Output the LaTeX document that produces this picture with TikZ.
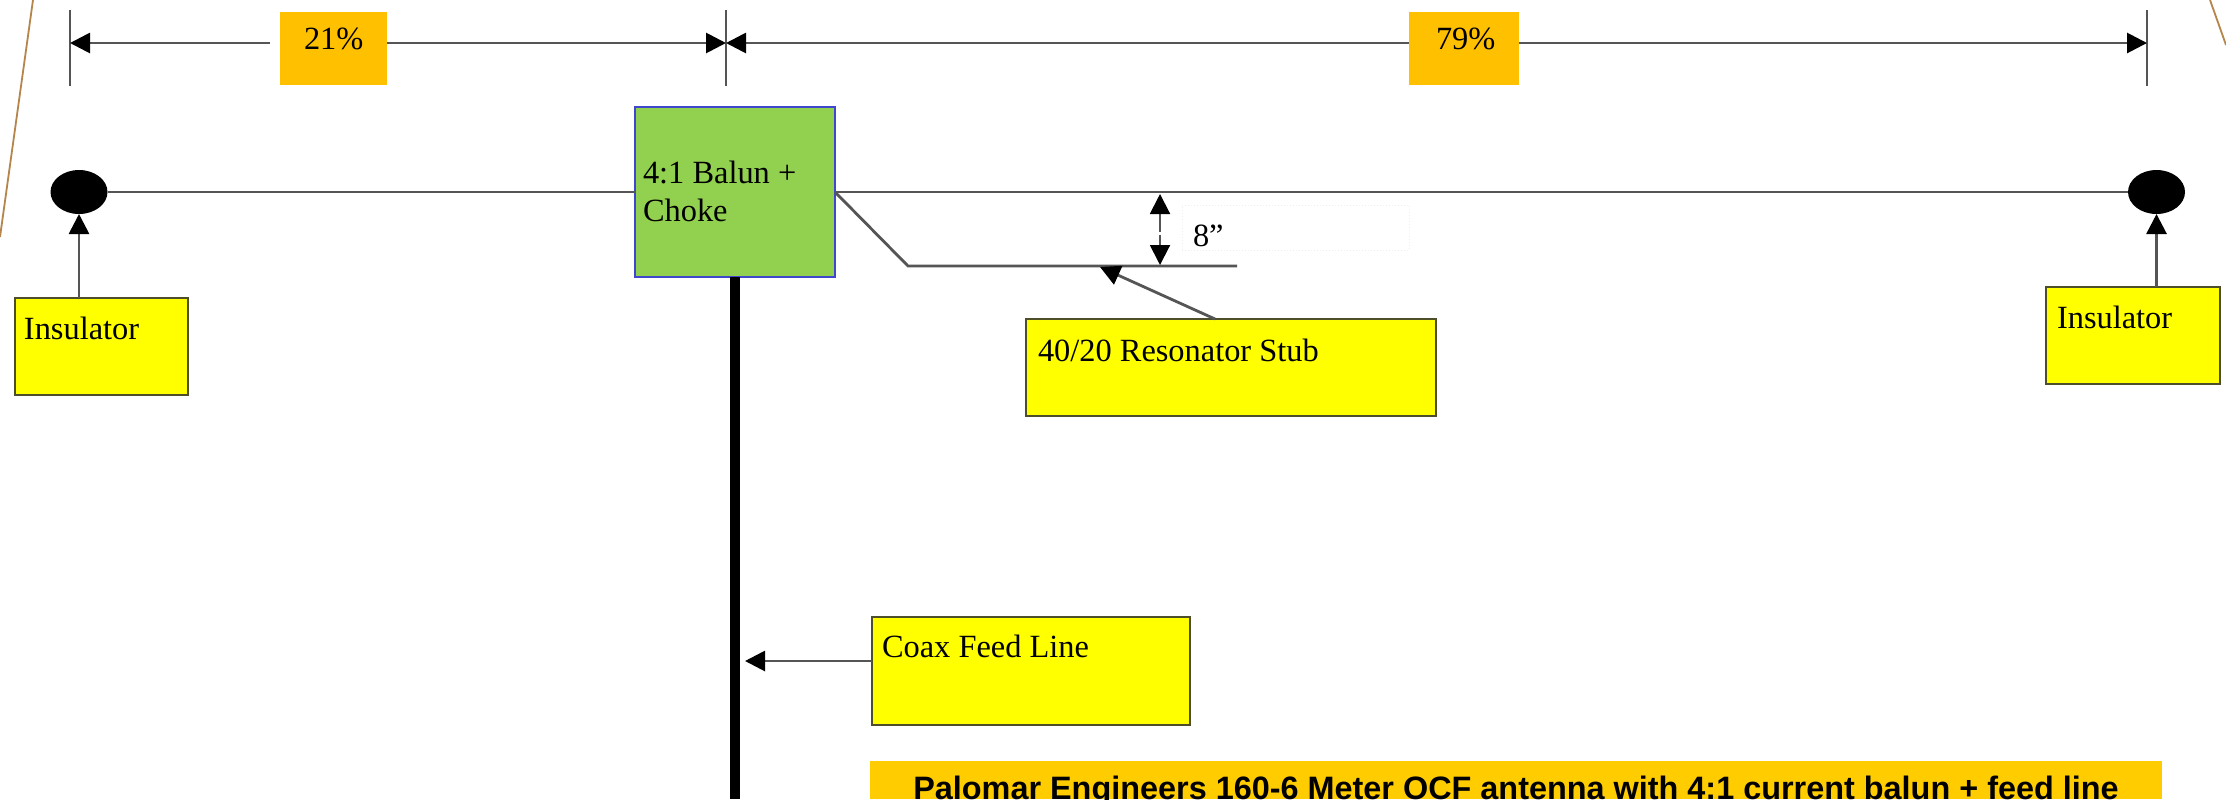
\documentclass[tikz,border=0pt]{standalone}
\usepackage{fontspec}
\setmainfont{Liberation Serif}
\newfontfamily\headfont{Liberation Sans}
\usetikzlibrary{arrows.meta,calc,shapes.geometric}
\newdimen\pxu \pxu=0.5pt
% box content: width, height, left pad, top pad, text (all in image pixels)
\newcommand\bt[5]{\parbox[c][#2\pxu][t]{#1\pxu}{\raggedright\leftskip=#3\pxu\relax\vspace*{#4\pxu}#5\par}}
\tikzset{
  x=0.5pt,y=-0.5pt,
  every node/.style={inner sep=0pt,outer sep=0pt,anchor=north west,font=\fontsize{16.2}{19}\selectfont},
  wire/.style={draw=wirec,line width=1.4pt},
  tipped/.style={wire,-{Triangle[length=10pt,width=10pt,color=black]}},
  twotip/.style={wire,{Triangle[length=10pt,width=10pt,color=black]}-{Triangle[length=10pt,width=10pt,color=black]}},
  tick/.style={draw=wirec,line width=1.4pt},
  pct/.style={fill=pctc,draw=none},
  note/.style={fill=notefill,draw=notec,line width=1.3pt},
  ins/.style={ellipse,fill=black,draw=none,anchor=center},
  frame/.style={draw=framec,line width=0.9pt},
}
\definecolor{wirec}{HTML}{555555}
\definecolor{notec}{HTML}{4E4E2A}
\definecolor{notefill}{HTML}{FFFF00}
\definecolor{pctc}{HTML}{FFC000}
\definecolor{headc}{HTML}{FFCC00}
\definecolor{balunc}{HTML}{92D050}
\definecolor{balund}{HTML}{3F48CC}
\definecolor{framec}{HTML}{B5854B}
\definecolor{faint}{HTML}{EFEFEF}
\begin{document}
\begin{tikzpicture}
\useasboundingbox (0,0) rectangle (2226,799);
\fill[white] (0,0) rectangle (2226,799);
\clip (0,0) rectangle (2226,799);
% slide frame fragments
\coordinate (fa) at (33,0); \coordinate (fb) at (0,237);
\coordinate (fc) at (2210,0); \coordinate (fd) at (2226,45);
\draw[frame] (fa) -- (fb);
\draw[frame] (fc) -- (fd);
% dimension ticks
\coordinate (tlt) at (70,10); \coordinate (tlb) at (70,86);
\coordinate (tmt) at (726,10); \coordinate (tmb) at (726,86);
\coordinate (trt) at (2147,10); \coordinate (trb) at (2147,86);
\draw[tick] (tlt) -- (tlb);
\draw[tick] (tmt) -- (tmb);
\draw[tick] (trt) -- (trb);
\coordinate (tl) at (70,43); \coordinate (tm) at (726,43); \coordinate (tr) at (2147,43);
% percentage boxes
\node[pct] (p21) at (280,12) {\bt{107}{73}{24}{16}{21\%}};
\node[pct] (p79) at (1409,12) {\bt{110}{73}{27}{16}{79\%}};
\coordinate (p21l) at (270,43); \coordinate (p21r) at (387,43);
\coordinate (p79l) at (1409,43); \coordinate (p79r) at (1519,43);
\draw[tipped] (p21l) -- (tl);
\draw[tipped] (p21r) -- (tm);
\draw[tipped] (p79l) -- (tm);
\draw[tipped] (p79r) -- (tr);
% antenna
\node[ins,minimum width=28.5pt,minimum height=22pt] (il) at (79,192) {};
\node[ins,minimum width=28.5pt,minimum height=22pt] (ir) at (2156.5,192) {};
\node[fill=balunc,draw=balund,line width=1.3pt] (balun) at (635,107) {\bt{200}{170}{8}{54}{4:1 Balun +\\Choke}};
\draw[wire] (il.east) -- (balun.west);
\draw[wire] (balun.east) -- (ir.west);
\coordinate (sk) at (908,266); \coordinate (se) at (1237,266);
\draw[wire] (balun.east) -- (sk) -- (se);
% 8 inch label and dimension
\node[fill=white,draw=faint,densely dotted,line width=0.5pt] (gap) at (1182,205) {\bt{227}{45}{11}{20}{8”}};
\coordinate (da) at (1160,194); \coordinate (db) at (1160,265);
\draw[twotip,line width=1pt,dash pattern=on 9pt off 1.5pt] (da) -- (db);
% coax
\coordinate (cb) at (735,799);
\draw[black,line width=4.6pt] (balun.south) -- (cb);
% notes
\node[note] (nl) at (15,298) {\bt{173}{97}{9}{19}{Insulator}};
\node[note] (nr) at (2046,287) {\bt{174}{97}{11}{19}{Insulator}};
\node[note] (ns) at (1026,319) {\bt{410}{97}{12}{20}{40/20 Resonator Stub}};
\node[note] (nc) at (872,617) {\bt{318}{108}{10}{18}{Coax Feed Line}};
\draw[tipped] (nl.north -| il.south) -- (il.south);
\draw[tipped] (nr.north -| ir.south) -- (ir.south);
\coordinate (sa) at (1215,319); \coordinate (st) at (1100,267);
\draw[tipped] (sa) -- (st);
\coordinate (ct) at (745,661);
\draw[tipped] (ct -| nc.west) -- (ct);
% caption
\node[fill=headc] (cap) at (870,761) {\parbox[t][38\pxu][t]{1292\pxu}{\centering\vspace*{15\pxu}\headfont\bfseries\fontsize{16.2}{18}\selectfont Palomar Engineers 160-6 Meter OCF antenna with 4:1 current balun + feed line}};
\end{tikzpicture}
\end{document}
